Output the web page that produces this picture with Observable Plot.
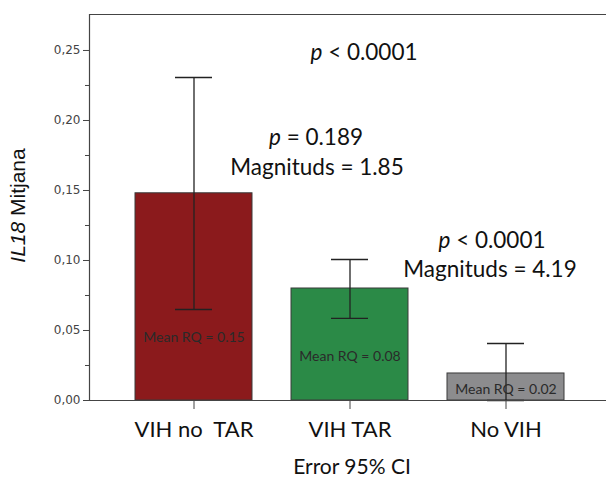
<!DOCTYPE html>
<html>
<head>
<meta charset="utf-8">
<script src="https://cdn.jsdelivr.net/npm/d3@7"></script>
<script src="https://cdn.jsdelivr.net/npm/@observablehq/plot@0.6"></script>
<style>
  html, body { margin: 0; padding: 0; background: #fff; }
</style>
</head>
<body>
<div id="chart"></div>
<script>
const groups = ["VIH no\u00a0\u00a0TAR", "VIH TAR", "No VIH"];
const means = [0.148, 0.080, 0.0193];
const ciLow = [0.065, 0.0586, 0.0];
const ciHigh = [0.2307, 0.1007, 0.0407];
const meanLabels = ["Mean RQ = 0.15", "Mean RQ = 0.08", "Mean RQ = 0.02"];
const meanLabelAt = [0.045, 0.0314, 0.0079];
const colors = ["#8b1a1c", "#2b8a47", "#8c8c8e"];
const majorTicks = [0, 0.05, 0.10, 0.15, 0.20, 0.25];
const minorTicks = [0.025, 0.075, 0.125, 0.175, 0.225];
const yMax = 0.2757;
const noteTexts = ["p < 0.0001", "p = 0.189", "Magnituds = 1.85", "p < 0.0001", "Magnituds = 4.19"];
const noteGroups = ["VIH TAR", "VIH TAR", "VIH TAR", "No VIH", "No VIH"];
const noteY = [0.2486, 0.1879, 0.1664, 0.1143, 0.0936];
const noteShift = [14, -34, -33, -14, -16];

const rows = groups.map((g, i) => ({
  group: g, mean: means[i], lo: ciLow[i], hi: ciHigh[i],
  label: meanLabels[i], labelY: meanLabelAt[i], color: colors[i]
}));

const sans = "Lato, 'Open Sans', sans-serif";

const noteMarks = noteTexts.map((t, i) =>
  Plot.text([{group: noteGroups[i], y: noteY[i], text: t}],
    {x: "group", y: "y", text: "text", dx: noteShift[i], fontSize: 22.5, fill: "#111"})
);

const plot = Plot.plot({
  width: 606,
  height: 478,
  marginLeft: 89,
  marginRight: 0,
  marginTop: 14,
  marginBottom: 78,
  style: {fontFamily: sans, background: "#fff", overflow: "visible"},
  x: {domain: groups, range: [94, 604], padding: 0.25, label: null},
  y: {domain: [0, yMax], label: null},
  marks: [
    Plot.barY(rows, {x: "group", y: "mean", fill: "color", stroke: "#3a3a3a", strokeWidth: 1}),
    Plot.ruleX(rows, {x: "group", y1: "lo", y2: "hi", stroke: "#222", strokeWidth: 1.3}),
    Plot.tickY(rows, {x: "group", y: "hi", stroke: "#222", strokeWidth: 1.3, inset: 40}),
    Plot.tickY(rows, {x: "group", y: "lo", stroke: "#222", strokeWidth: 1.3, inset: 40}),
    Plot.text(rows, {x: "group", y: "labelY", text: "label", fontSize: 14, fill: "#2a2a2a"}),
    Plot.ruleY([0], {stroke: "#444", strokeWidth: 1.2}),
    Plot.ruleY([yMax], {stroke: "#444", strokeWidth: 1.2}),
    Plot.frame({anchor: "left", stroke: "#444", strokeWidth: 1.2}),
    Plot.axisY({ticks: majorTicks, tickSize: 6, tickPadding: 3, tickFormat: d => d.toFixed(2).replace(".", ","),
      fontSize: 12, fontFamily: "'DejaVu Sans', sans-serif", fill: "#444", stroke: "#444", label: null}),
    Plot.axisY({ticks: minorTicks, tickSize: 4, tickFormat: () => "", stroke: "#444", label: null}),
    Plot.axisX({tickSize: 9, tickPadding: 12, fontSize: 22, fill: "#111", stroke: "#444", label: null}),
    ...noteMarks,
    Plot.text(["Error 95% CI"], {frameAnchor: "bottom", lineAnchor: "middle", dy: 67, dx: 4, fontSize: 21, fill: "#111"}),
    Plot.text(["IL18 Mitjana"], {frameAnchor: "left", textAnchor: "middle", rotate: -90, dx: -65, dy: -2,
      lineAnchor: "bottom", fontSize: 21, fill: "#111", fontFamily: "'Liberation Sans', Arial, sans-serif"})
  ]
});

// italicise the statistical symbol and gene name
d3.select(plot).selectAll("text").each(function () {
  const el = d3.select(this);
  if (el.selectAll("tspan").size() > 0) return;
  const t = this.textContent;
  let it = null, rest = null;
  if (t.startsWith("p ")) { it = "p"; rest = t.slice(1); }
  else if (t.startsWith("IL18 ")) { it = "IL18"; rest = t.slice(4); }
  if (it === null) return;
  el.text(null);
  el.append("tspan").attr("font-style", "italic").text(it);
  el.append("tspan").text(rest);
});

document.getElementById("chart").append(plot);
</script>
</body>
</html>
